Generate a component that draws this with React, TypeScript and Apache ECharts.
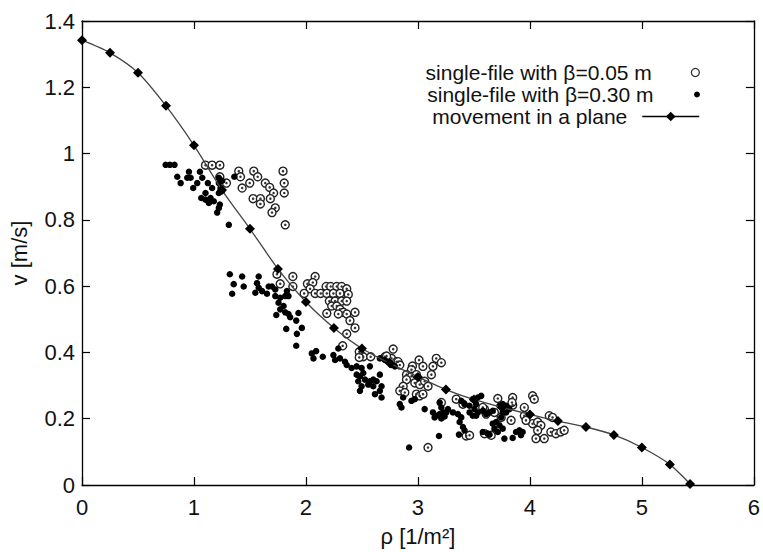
import React, { useEffect, useRef } from "react";
import * as echarts from "echarts";

const NAME_05 = "single-file with β=0.05 m";
const NAME_30 = "single-file with β=0.30 m";
const NAME_PLANE = "movement in a plane";

const xTicks = [0, 1, 2, 3, 4, 5, 6];
const yTicks = [0, 0.2, 0.4, 0.6, 0.8, 1.0, 1.2, 1.4];

const planeRho = [0, 0.25, 0.5, 0.75, 1.0, 1.25, 1.5, 1.75, 2.0, 2.25, 2.5, 2.75, 3.0, 3.25, 3.5, 3.75, 4.0, 4.25, 4.5, 4.75, 5.0, 5.25, 5.43];
const planeV = [1.342, 1.304, 1.244, 1.144, 1.025, 0.89, 0.773, 0.652, 0.552, 0.474, 0.412, 0.367, 0.326, 0.288, 0.258, 0.234, 0.213, 0.193, 0.175, 0.151, 0.113, 0.062, 0.003];

const beta005: [number, number][] = [
  [1.103, 0.965], [1.162, 0.965], [1.231, 0.965], [1.231, 0.93], [1.29, 0.911], [1.4, 0.947], [1.415, 0.93], [1.43, 0.896],
  [1.498, 0.911], [1.534, 0.947], [1.569, 0.93], [1.637, 0.911], [1.676, 0.898], [1.711, 0.881], [1.682, 0.864], [1.795, 0.947],
  [1.806, 0.911], [1.806, 0.881], [1.528, 0.864], [1.593, 0.864], [1.593, 0.848], [1.726, 0.836], [1.697, 0.822], [1.815, 0.785],
  [1.741, 0.636], [1.883, 0.629], [1.77, 0.607], [1.883, 0.599], [2.082, 0.629], [2.013, 0.607], [2.061, 0.611], [2.037, 0.592],
  [1.984, 0.578], [2.082, 0.578], [2.132, 0.578], [2.18, 0.599], [2.221, 0.599], [2.275, 0.599], [2.319, 0.599], [2.364, 0.592],
  [2.186, 0.578], [2.245, 0.578], [2.304, 0.578], [2.378, 0.575], [2.209, 0.555], [2.26, 0.555], [2.319, 0.555], [2.364, 0.555],
  [2.23, 0.54], [2.275, 0.54], [2.304, 0.53], [2.334, 0.521], [2.289, 0.516], [2.364, 0.516], [2.438, 0.521], [2.186, 0.518],
  [2.393, 0.496], [2.438, 0.474], [2.364, 0.456], [2.328, 0.42], [2.482, 0.397], [2.512, 0.387], [2.578, 0.387], [2.779, 0.41],
  [2.705, 0.387], [2.764, 0.382], [2.809, 0.372], [2.476, 0.402], [2.476, 0.385], [2.72, 0.389], [2.823, 0.372], [2.838, 0.362],
  [3.01, 0.377], [3.164, 0.382], [3.209, 0.369], [3.045, 0.358], [3.134, 0.358], [2.951, 0.359], [2.942, 0.348], [2.898, 0.333],
  [2.942, 0.328], [2.986, 0.333], [2.898, 0.318], [3.12, 0.333], [2.972, 0.308], [3.016, 0.303], [3.06, 0.313], [3.09, 0.298],
  [2.868, 0.298], [2.838, 0.284], [2.883, 0.279], [2.986, 0.274], [3.016, 0.269], [3.045, 0.274], [3.209, 0.249], [3.342, 0.259],
  [3.431, 0.148], [3.09, 0.113], [3.713, 0.261], [3.846, 0.264], [3.846, 0.241], [4.024, 0.269], [4.039, 0.259], [3.95, 0.234],
  [3.95, 0.209], [3.594, 0.229], [3.683, 0.219], [4.024, 0.185], [4.069, 0.19], [4.098, 0.18], [4.069, 0.165], [4.054, 0.14],
  [4.128, 0.14], [4.173, 0.209], [4.202, 0.204], [4.187, 0.16], [4.232, 0.155], [4.276, 0.16], [4.306, 0.165], [3.654, 0.15],
  [3.594, 0.155], [3.461, 0.15], [3.84, 0.249], [3.965, 0.195], [3.832, 0.195], [3.402, 0.244], [3.579, 0.234], [3.609, 0.214],
  [3.743, 0.204],
];

const beta030: [number, number][] = [
  [0.747, 0.966], [0.785, 0.966], [0.826, 0.966], [0.851, 0.93], [0.881, 0.911], [0.955, 0.945], [0.94, 0.927], [0.97, 0.927],
  [0.993, 0.896], [1.029, 0.911], [1.053, 0.945], [1.074, 0.927], [1.124, 0.911], [1.162, 0.896], [1.103, 0.881], [1.065, 0.866],
  [1.103, 0.861], [1.148, 0.866], [1.133, 0.851], [1.177, 0.856], [1.222, 0.881], [1.237, 0.896], [1.222, 0.911], [1.252, 0.918],
  [1.222, 0.927], [1.222, 0.836], [1.207, 0.822], [1.231, 0.846], [1.252, 0.888], [1.311, 0.785], [1.36, 0.93],
  [1.32, 0.636], [1.43, 0.629], [1.355, 0.606], [1.444, 0.599], [1.341, 0.577], [1.578, 0.629], [1.563, 0.609], [1.578, 0.595],
  [1.548, 0.58], [1.608, 0.585], [1.667, 0.599], [1.697, 0.599], [1.726, 0.59], [1.652, 0.577], [1.726, 0.57], [1.77, 0.565],
  [1.815, 0.57], [1.755, 0.55], [1.8, 0.54], [1.77, 0.53], [1.815, 0.521], [1.844, 0.516], [1.859, 0.506], [1.83, 0.585],
  [1.844, 0.57], [1.735, 0.513], [1.933, 0.519], [1.913, 0.496], [1.824, 0.471], [1.963, 0.474], [1.919, 0.456], [1.913, 0.42],
  [2.052, 0.397], [2.091, 0.404], [2.067, 0.382], [2.15, 0.387],
  [2.289, 0.412], [2.245, 0.392], [2.26, 0.377], [2.304, 0.382], [2.349, 0.372], [2.364, 0.362], [2.408, 0.353], [2.453, 0.358],
  [2.497, 0.353], [2.512, 0.338], [2.453, 0.333], [2.482, 0.328], [2.467, 0.313], [2.527, 0.318], [2.571, 0.313], [2.601, 0.318],
  [2.631, 0.313], [2.556, 0.303], [2.497, 0.298], [2.482, 0.284], [2.601, 0.298], [2.675, 0.298], [2.66, 0.284], [2.616, 0.274],
  [2.675, 0.264], [2.571, 0.358], [2.66, 0.333], [2.66, 0.382], [2.705, 0.377], [2.734, 0.372], [2.764, 0.362], [2.794, 0.358],
  [2.838, 0.244], [2.853, 0.234], [2.868, 0.264], [2.942, 0.254], [2.972, 0.259], [3.06, 0.229], [3.194, 0.249], [3.209, 0.234],
  [3.134, 0.219], [3.164, 0.209], [3.194, 0.214], [3.224, 0.219], [3.253, 0.219], [3.149, 0.204], [3.209, 0.201], [3.238, 0.207],
  [3.268, 0.229], [3.313, 0.219], [3.357, 0.214], [3.387, 0.204], [3.372, 0.19], [3.402, 0.175], [3.416, 0.165], [3.387, 0.254],
  [3.416, 0.244], [3.461, 0.219], [3.49, 0.209], [3.52, 0.209], [3.52, 0.259], [3.52, 0.244], [3.188, 0.148], [2.921, 0.113],
  [3.366, 0.152], [3.49, 0.259], [3.535, 0.264], [3.565, 0.269], [3.461, 0.239], [3.505, 0.229], [3.535, 0.219], [3.579, 0.224],
  [3.609, 0.214], [3.639, 0.219], [3.668, 0.224], [3.728, 0.239], [3.757, 0.244], [3.787, 0.239], [3.817, 0.229], [3.787, 0.219],
  [3.757, 0.219], [3.743, 0.204], [3.698, 0.19], [3.728, 0.18], [3.757, 0.17], [3.713, 0.16], [3.668, 0.185], [3.683, 0.17],
  [3.579, 0.16], [3.639, 0.152], [3.772, 0.14], [3.846, 0.142], [3.876, 0.16], [3.906, 0.165], [3.935, 0.16], [3.92, 0.15],
  [3.624, 0.155],
];

const FONT = "'Liberation Sans', Arial, Helvetica, sans-serif";
const TXT = "#111";

export default function App() {
  const ref = useRef<HTMLDivElement>(null);
  useEffect(() => {
    if (!ref.current) return;
    const chart = echarts.init(ref.current, null, { renderer: "svg" });
    const fmtY = (v: number) => String(Number(v.toFixed(1)));
    const baseX = {
      type: "value" as const,
      min: xTicks[0],
      max: xTicks[xTicks.length - 1],
      interval: 1,
      splitLine: { show: false },
      axisLine: { show: true, onZero: false, lineStyle: { color: "#000", width: 1.3 } },
      axisTick: { show: true, inside: true, length: 8, lineStyle: { color: "#000", width: 1.2 } },
    };
    const baseY = {
      type: "value" as const,
      min: yTicks[0],
      max: yTicks[yTicks.length - 1],
      interval: 0.2,
      splitLine: { show: false },
      axisLine: { show: true, onZero: false, lineStyle: { color: "#000", width: 1.3 } },
      axisTick: { show: true, inside: true, length: 8, lineStyle: { color: "#000", width: 1.2 } },
    };
    const legendBase = {
      orient: "vertical" as const,
      align: "right" as const,
      right: 63,
      padding: 0,
      itemWidth: 57,
      selectedMode: false,
      textStyle: { fontSize: 21, lineHeight: 20, fontFamily: FONT, color: TXT, padding: [0, 10, 0, 0] },
    };
    chart.setOption({
      animation: false,
      backgroundColor: "#fff",
      textStyle: { fontFamily: FONT },
      grid: { left: 81, right: 8, top: 21, bottom: 58, containLabel: false },
      legend: [
        { ...legendBase, top: 62, itemHeight: 8, data: [NAME_05],
          itemStyle: { color: "#fff", borderColor: "#333", borderWidth: 1.3 } },
        { ...legendBase, top: 84, itemHeight: 6, data: [NAME_30],
          itemStyle: { color: "#000", borderWidth: 0, opacity: 1 } },
        { ...legendBase, top: 106, itemHeight: 12, data: [NAME_PLANE],
          itemStyle: { color: "#000" }, lineStyle: { color: "#000", width: 1.5 } },
      ],
      xAxis: [
        { ...baseX, position: "bottom",
          axisLabel: { fontSize: 22, fontFamily: FONT, color: TXT, margin: 11 },
          name: "ρ [1/m²]", nameLocation: "middle", nameGap: 40,
          nameTextStyle: { fontSize: 22, fontFamily: FONT, color: TXT } },
        { ...baseX, position: "top", axisLabel: { show: false } },
      ],
      yAxis: [
        { ...baseY, position: "left",
          axisLabel: { fontSize: 22, fontFamily: FONT, color: TXT, margin: 7, formatter: fmtY },
          name: "v [m/s]", nameLocation: "middle", nameGap: 52,
          nameTextStyle: { fontSize: 22, fontFamily: FONT, color: TXT } },
        { ...baseY, position: "right", axisLabel: { show: false } },
      ],
      series: [
        {
          name: NAME_05, type: "scatter", data: beta005, symbol: "circle", symbolSize: 8,
          itemStyle: { color: "#fff", borderColor: "#222", borderWidth: 1.4, opacity: 1 },
        },
        {
          name: "_center05", type: "scatter", data: beta005, symbol: "circle", symbolSize: 2.5,
          itemStyle: { color: "#333", opacity: 1 }, silent: true,
        },
        {
          name: NAME_30, type: "scatter", data: beta030, symbol: "circle", symbolSize: 6.5,
          itemStyle: { color: "#000", opacity: 1 },
        },
        {
          name: NAME_PLANE, type: "line", data: planeRho.map((r, i) => [r, planeV[i]]),
          symbol: "diamond", symbolSize: 10, smooth: 0.25,
          itemStyle: { color: "#000" }, lineStyle: { color: "#444", width: 1.3 },
        },
      ],
    });
    return () => chart.dispose();
  }, []);
  return <div ref={ref} style={{ width: 763, height: 552, position: "absolute", left: 0, top: 0 }} />;
}
